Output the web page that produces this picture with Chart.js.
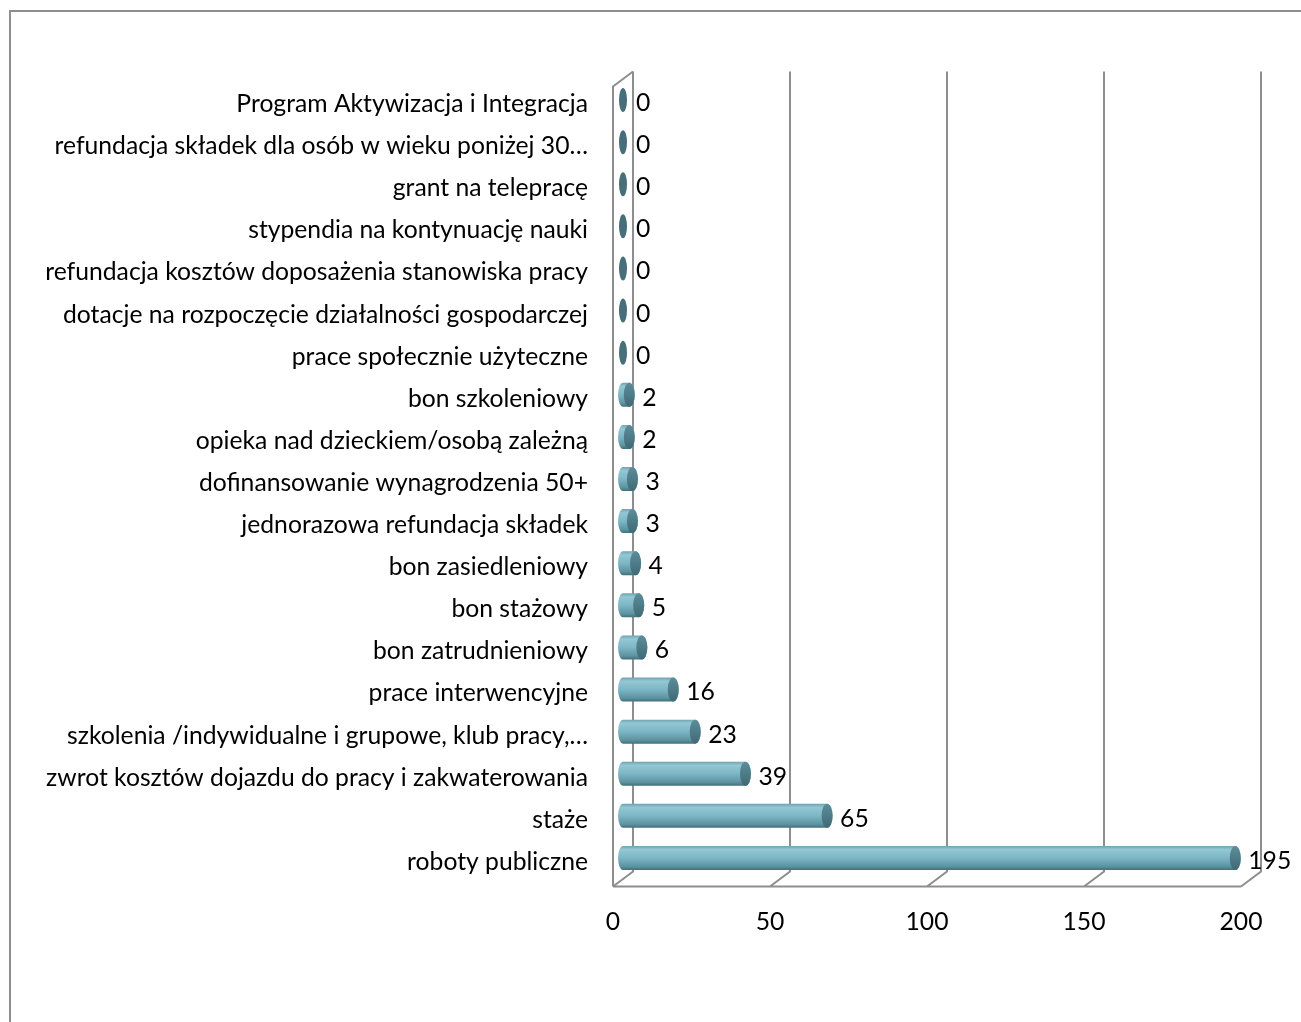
<!DOCTYPE html>
<html>
<head>
<meta charset="utf-8">
<script src="https://cdn.jsdelivr.net/npm/chart.js@4.4.1/dist/chart.umd.min.js"></script>
<style>
html, body { margin: 0; padding: 0; background: #fff; overflow: hidden; }
#wrap { position: relative; width: 1301px; height: 1022px; }
#frame { position: absolute; left: 9px; top: 10px; width: 1400px; height: 1100px; border: 2px solid #8e8e8e; }
canvas { position: absolute; left: 0; top: 0; }
</style>
</head>
<body>
<div id="wrap">
  <div id="frame"></div>
  <canvas id="chart" width="1301" height="1022"></canvas>
</div>
<script>
const categories = [
  "Program Aktywizacja i Integracja",
  "refundacja składek dla osób w wieku poniżej 30…",
  "grant na telepracę",
  "stypendia na kontynuację nauki",
  "refundacja kosztów doposażenia stanowiska pracy",
  "dotacje na rozpoczęcie działalności gospodarczej",
  "prace społecznie użyteczne",
  "bon szkoleniowy",
  "opieka nad dzieckiem/osobą zależną",
  "dofinansowanie wynagrodzenia 50+",
  "jednorazowa refundacja składek",
  "bon zasiedleniowy",
  "bon stażowy",
  "bon zatrudnieniowy",
  "prace interwencyjne",
  "szkolenia /indywidualne i grupowe, klub pracy,…",
  "zwrot kosztów dojazdu do pracy i zakwaterowania",
  "staże",
  "roboty publiczne"
];
const values = [0, 0, 0, 0, 0, 0, 0, 2, 2, 3, 3, 4, 5, 6, 16, 23, 39, 65, 195];
const xTicks = [0, 50, 100, 150, 200];

const FONT = "Lato";
const FSIZE = 24.7;
const DX = 10, DY = 7.5; // fake depth of the 3d box

// back walls, floor and grid lines of the 3d box
const boxPlugin = {
  id: "box",
  beforeDatasetsDraw(chart) {
    const ctx = chart.ctx;
    const x = chart.scales.x;
    const a = chart.chartArea;
    ctx.save();
    ctx.strokeStyle = "#8e8e8e";
    ctx.lineWidth = 2;
    ctx.beginPath();
    xTicks.forEach(v => {
      const px = x.getPixelForValue(v);
      ctx.moveTo(px + DX, a.top - DY);
      ctx.lineTo(px + DX, a.bottom - DY);
      ctx.lineTo(px - DX, a.bottom + DY);
    });
    const p0 = x.getPixelForValue(0), p1 = x.getPixelForValue(200);
    ctx.moveTo(p0 - DX, a.bottom + DY);
    ctx.lineTo(p1 - DX, a.bottom + DY);
    ctx.moveTo(p0 - DX, a.bottom + DY);
    ctx.lineTo(p0 - DX, a.top + DY);
    ctx.lineTo(p0 + DX, a.top - DY);
    ctx.stroke();
    ctx.restore();
  }
};

function cylinder(ctx, x0, x1, y, h) {
  const r = h / 2;
  if (x1 - x0 < 1) {
    ctx.beginPath();
    ctx.ellipse(x0, y, 4, r, 0, 0, Math.PI * 2);
    ctx.fillStyle = "#476f7a";
    ctx.fill();
    return;
  }
  const rx = 5.5;
  const g = ctx.createLinearGradient(0, y - r, 0, y + r);
  g.addColorStop(0, "#6fa3b1");
  g.addColorStop(0.15, "#93c7d4");
  g.addColorStop(0.5, "#7db6c5");
  g.addColorStop(0.85, "#5e93a1");
  g.addColorStop(1, "#426f7b");
  ctx.beginPath();
  ctx.ellipse(x0, y, rx * 0.9, r, 0, Math.PI / 2, Math.PI * 1.5);
  ctx.lineTo(x1, y - r);
  ctx.ellipse(x1, y, rx, r, 0, -Math.PI / 2, Math.PI / 2);
  ctx.closePath();
  ctx.fillStyle = g;
  ctx.fill();
  const g2 = ctx.createLinearGradient(0, y - r, 0, y + r);
  g2.addColorStop(0, "#5c8d9a");
  g2.addColorStop(1, "#406a75");
  ctx.beginPath();
  ctx.ellipse(x1, y, rx, r, 0, 0, Math.PI * 2);
  ctx.fillStyle = g2;
  ctx.fill();
}

const cylinderPlugin = {
  id: "cylinders",
  afterDatasetsDraw(chart) {
    const ctx = chart.ctx;
    const meta = chart.getDatasetMeta(0);
    ctx.save();
    meta.data.forEach((el, i) => {
      const p = el.getProps(["x", "y", "base", "height"], true);
      cylinder(ctx, p.base, p.x, p.y, p.height);
      ctx.fillStyle = "#000";
      ctx.font = FSIZE + "px " + FONT;
      ctx.textAlign = "left";
      ctx.textBaseline = "middle";
      ctx.fillText(String(values[i]), p.x + 13, p.y + 3);
    });
    ctx.restore();
  }
};

new Chart(document.getElementById("chart"), {
  type: "bar",
  data: {
    labels: categories,
    datasets: [{
      data: values,
      backgroundColor: "rgba(0,0,0,0)",
      borderWidth: 0,
      barPercentage: 0.57,
      categoryPercentage: 1
    }]
  },
  options: {
    indexAxis: "y",
    responsive: false,
    animation: false,
    devicePixelRatio: 1,
    layout: { padding: { left: 0, top: 79, right: 50, bottom: 0 } },
    plugins: { legend: { display: false }, tooltip: { enabled: false } },
    scales: {
      x: {
        min: 0,
        max: 200,
        afterBuildTicks: s => { s.ticks = xTicks.map(v => ({ value: v })); },
        afterFit: s => { s.height = 143; },
        grid: { display: false, drawTicks: false },
        border: { display: false },
        ticks: { color: "#000", font: { family: FONT, size: FSIZE }, padding: 28, labelOffset: -DX, maxRotation: 0 }
      },
      y: {
        afterFit: s => { s.width = 623; },
        grid: { display: false, drawTicks: false },
        border: { display: false },
        ticks: { color: "#000", font: { family: FONT, size: FSIZE }, padding: 35, labelOffset: 4, autoSkip: false }
      }
    }
  },
  plugins: [boxPlugin, cylinderPlugin]
});
</script>
</body>
</html>
